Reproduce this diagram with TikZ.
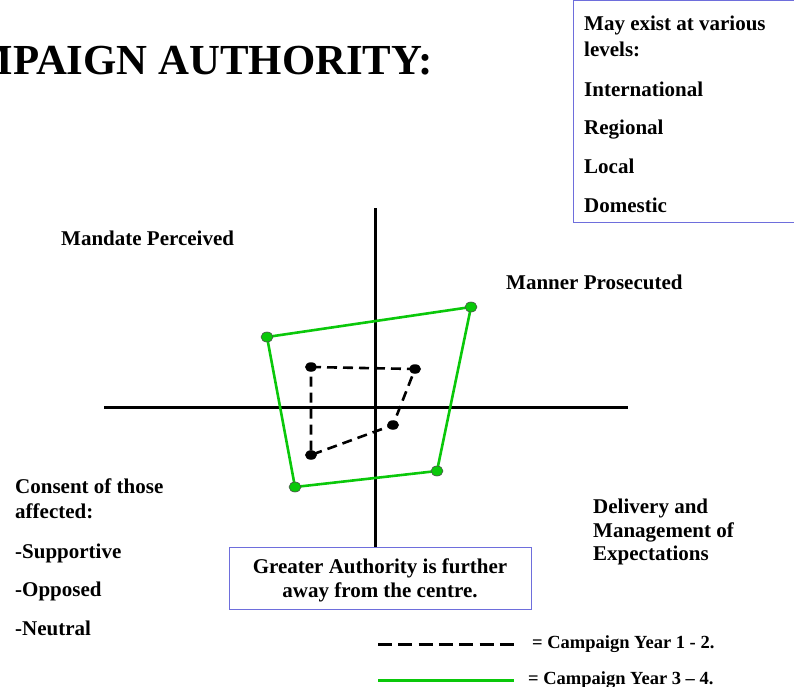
\documentclass[tikz,border=0pt]{standalone}
\usepackage{fontspec}
\setmainfont{Liberation Serif}
\usetikzlibrary{shapes.geometric}

\definecolor{campgreen}{RGB}{10,200,10}
\definecolor{boxblue}{RGB}{110,110,220}

\tikzset{
  lbl/.style={anchor=base west, inner sep=0pt, font=\bfseries\fontsize{21}{25}\selectfont},
  legend/.style={anchor=base west, inner sep=0pt, font=\bfseries\fontsize{18.5}{22}\selectfont},
  axis/.style={line width=3pt},
  yeartwo/.style={line width=2.6pt, draw=campgreen},
  yearone/.style={line width=2.6pt, dash pattern=on 10pt off 6pt},
  gdot/.style={ellipse, draw=black!70, line width=0.6pt, fill=campgreen, minimum width=12pt, minimum height=10pt, inner sep=0pt},
  bdot/.style={ellipse, fill=black, minimum width=12pt, minimum height=9.5pt, inner sep=0pt},
  infobox/.style={draw=boxblue, line width=1pt}
}

\begin{document}
\begin{tikzpicture}[x=1pt,y=-1pt]
  \clip (0,0) rectangle (794,687);
  \useasboundingbox (0,0) rectangle (794,687);

  %% title, cut at the left edge
  \node[anchor=base east, inner sep=0pt, font=\bfseries\fontsize{42.8}{48}\selectfont]
    (title) at (433,75) {CAMPAIGN AUTHORITY:};

  %% levels box
  \draw[infobox] (573,1) rectangle (800,222);
  \node[lbl] (levA) at (584,31) {May exist at various};
  \node[lbl] (levB) at (584,57) {levels:};
  \node[lbl] (levC) at (584,97) {International};
  \node[lbl] (levD) at (584,135) {Regional};
  \node[lbl] (levE) at (584,173) {Local};
  \node[lbl] (levF) at (584,212) {Domestic};

  %% axes
  \coordinate (top) at (375,208);
  \coordinate (bottom) at (375,547);
  \coordinate (left) at (104,407);
  \coordinate (right) at (628,407);
  \draw[axis] (top) -- (bottom);
  \draw[axis] (left) -- (right);

  %% quadrant labels
  \node[lbl] (mandate) at (61,245) {Mandate Perceived};
  \node[lbl] (manner) at (506,289) {Manner Prosecuted};
  \node[lbl] (consA) at (15,493) {Consent of those};
  \node[lbl] (consB) at (15,518) {affected:};
  \node[lbl] (consC) at (15,558) {-Supportive};
  \node[lbl] (consD) at (15,596) {-Opposed};
  \node[lbl] (consE) at (15,635) {-Neutral};
  \node[lbl] (delA) at (593,513) {Delivery and};
  \node[lbl] (delB) at (593,537) {Management of};
  \node[lbl] (delC) at (593,560) {Expectations};

  %% year 3 - 4
  \coordinate (g1) at (267,337);
  \coordinate (g2) at (471,307);
  \coordinate (g3) at (437,471);
  \coordinate (g4) at (295,487);
  \draw[yeartwo] (g1) -- (g2) -- (g3) -- (g4) -- cycle;

  %% year 1 - 2
  \coordinate (b1) at (311,367);
  \coordinate (b2) at (415,369);
  \coordinate (b3) at (393,425);
  \coordinate (b4) at (311,455);
  \draw[yearone] (b1) -- (b2) -- (b3) -- (b4) -- cycle;

  %% dots
  \foreach \p in {g1,g2,g3,g4} \node[gdot] (\p dot) at (\p) {};
  \foreach \p in {b1,b2,b3,b4} \node[bdot] (\p dot) at (\p) {};

  %% centre note
  \draw[infobox, fill=white] (229,547) rectangle (531,609);
  \node[anchor=base, inner sep=0pt, font=\bfseries\fontsize{21}{25}\selectfont]
    (noteA) at (380,573) {Greater Authority is further};
  \node[anchor=base, inner sep=0pt, font=\bfseries\fontsize{21}{25}\selectfont]
    (noteB) at (380,597) {away from the centre.};

  %% legend
  \coordinate (ldA) at (378,644);
  \coordinate (ldB) at (514,644);
  \coordinate (lgA) at (378,680);
  \coordinate (lgB) at (514,680);
  \draw[line width=3pt, dash pattern=on 14pt off 6.3pt] (ldA) -- (ldB);
  \draw[line width=3pt, draw=campgreen] (lgA) -- (lgB);
  \node[legend] (legA) at (532,648) {= Campaign Year 1 - 2.};
  \node[legend] (legB) at (528,684) {= Campaign Year 3 -- 4.};

\end{tikzpicture}
\end{document}
